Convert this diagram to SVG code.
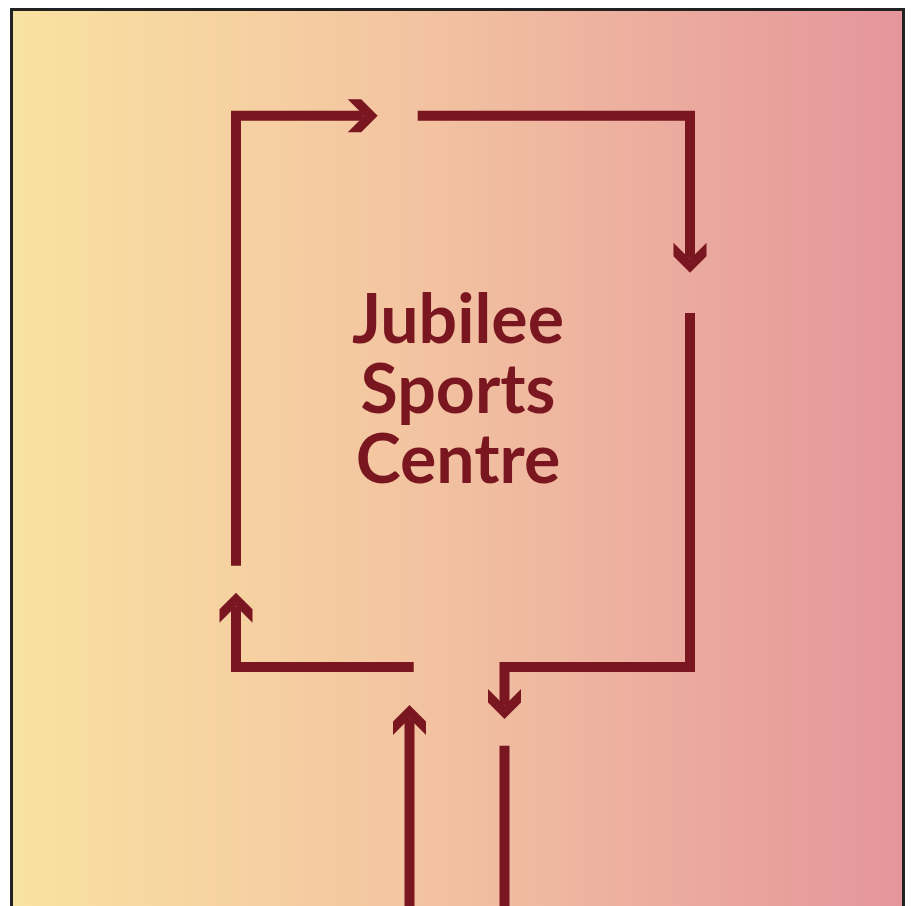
<svg xmlns="http://www.w3.org/2000/svg" width="912" height="906" viewBox="0 0 912 906">
  <defs>
    <linearGradient id="bg" x1="0" y1="0" x2="1" y2="0">
      <stop offset="0" stop-color="#F9E2A1"/>
      <stop offset="0.45" stop-color="#F3C4A1"/>
      <stop offset="1" stop-color="#E5959C"/>
    </linearGradient>
    <marker id="ah" markerUnits="userSpaceOnUse" markerWidth="40" markerHeight="40" refX="0" refY="0" orient="auto" overflow="visible">
      <path d="M14,0 L-2.5,-16.5 L-16,-16.5 L0.5,0 L-16,16.5 L-2.5,16.5 Z" fill="#7A1620"/>
    </marker>
    <style>
      .c { fill: none; stroke: #7A1620; stroke-width: 10; stroke-linejoin: miter; stroke-linecap: butt; }
      .a { marker-end: url(#ah); }
      .t { font-family: "Lato", "Liberation Sans", sans-serif; font-weight: 700; font-size: 68px; fill: #7A1620; text-anchor: middle; }
    </style>
  </defs>
  <rect x="0" y="0" width="912" height="906" fill="#FFFFFF"/>
  <rect id="frame" x="11.5" y="9.5" width="892" height="910" fill="url(#bg)" stroke="#222222" stroke-width="3"/>
  <g id="connectors">
    <path class="c a" d="M236,565.7 V115.7 H363.7"/>
    <path class="c a" d="M417.7,115.7 H690 V258.7"/>
    <path class="c a" d="M690,313 V667 H504.5 V705"/>
    <path class="c a" d="M413.7,667 H236 V606.7"/>
    <path class="c a" d="M409.5,910 V719"/>
    <path class="c" d="M504.5,745.7 V910"/>
  </g>
  <g id="centre">
    <text class="t"><tspan x="458" y="343">Jubilee</tspan><tspan x="458" y="413">Sports</tspan><tspan x="458" y="483">Centre</tspan></text>
  </g>
</svg>
